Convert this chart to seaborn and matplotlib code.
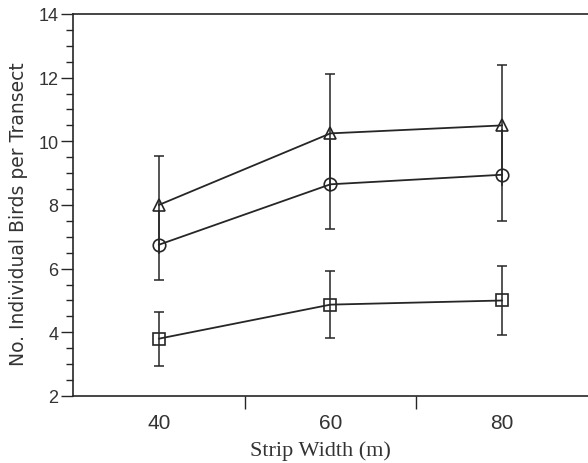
import matplotlib
matplotlib.use("Agg")
import matplotlib.pyplot as plt
import seaborn as sns
import numpy as np
from matplotlib.ticker import MultipleLocator, FixedLocator

# Data (mean +/- error)
strip_width = [40, 60, 80]
triangle_mean = [8.0, 10.25, 10.5]
triangle_err = [1.55, 1.85, 1.9]
circle_mean = [6.75, 8.65, 8.95]
circle_err = [1.1, 1.4, 1.45]
square_mean = [3.8, 4.87, 5.0]
square_err = [0.85, 1.05, 1.07]

sns.set_theme(style="ticks")
plt.rcParams["font.family"] = ["Liberation Sans", "DejaVu Sans"]

ink = "#262626"
txt = "#333333"
fig = plt.figure(figsize=(5.88, 4.64), dpi=100)
ax = fig.add_axes([0.124, 0.1444, 0.876, 0.8233])

line_kw = dict(color=ink, linewidth=1.3, markersize=9, markerfacecolor="none",
               markeredgecolor=ink, markeredgewidth=1.2)
bar_kw = dict(fmt="none", ecolor=ink, elinewidth=1.1)

# triangle and circle bars overlap, so only their outer ends carry caps
for mean, err, mk, cap_sign in [(triangle_mean, triangle_err, "^", 1),
                                (circle_mean, circle_err, "o", -1)]:
    sns.lineplot(x=strip_width, y=mean, ax=ax, marker=mk, **line_kw)
    ax.errorbar(strip_width, mean, yerr=err, capsize=0, **bar_kw)
    ends = np.array(mean) + cap_sign * np.array(err)
    ax.plot(strip_width, ends, linestyle="none", marker="_", markersize=7,
            markeredgewidth=1.1, color=ink)

sns.lineplot(x=strip_width, y=square_mean, ax=ax, marker="s", **line_kw)
ax.errorbar(strip_width, square_mean, yerr=square_err, capsize=3.5,
            capthick=1.1, **bar_kw)

ax.set_xlim(30, 90)
ax.set_ylim(2, 14)

ax.xaxis.set_major_locator(FixedLocator(strip_width))
ax.xaxis.set_minor_locator(FixedLocator([50, 70]))
ax.yaxis.set_major_locator(MultipleLocator(2))
ax.yaxis.set_minor_locator(MultipleLocator(0.5))

ax.tick_params(axis="x", which="major", length=0, pad=12, labelsize=15,
               labelcolor=txt)
ax.tick_params(axis="x", which="minor", length=9, width=1, color=ink,
               direction="out")
ax.tick_params(axis="y", which="major", length=8.5, width=1, color=ink,
               direction="out", pad=2, labelsize=13, labelcolor=txt)
ax.tick_params(axis="y", which="minor", length=5, width=1, color=ink,
               direction="out")

for side in ["left", "bottom", "top"]:
    ax.spines[side].set_color(ink)
    ax.spines[side].set_linewidth(1.2)
ax.spines["right"].set_visible(False)

ax.set_xlabel("Strip Width (m)", family=["Liberation Serif", "DejaVu Serif"],
              fontsize=16, color=txt)
ax.set_ylabel("No. Individual Birds per Transect",
              family=["DejaVu Sans"], fontsize=13.5, color=txt)
ax.xaxis.set_label_coords(0.48, -0.117)
ax.yaxis.set_label_coords(-0.088, 0.48)

fig.savefig("out.png", dpi=100)
